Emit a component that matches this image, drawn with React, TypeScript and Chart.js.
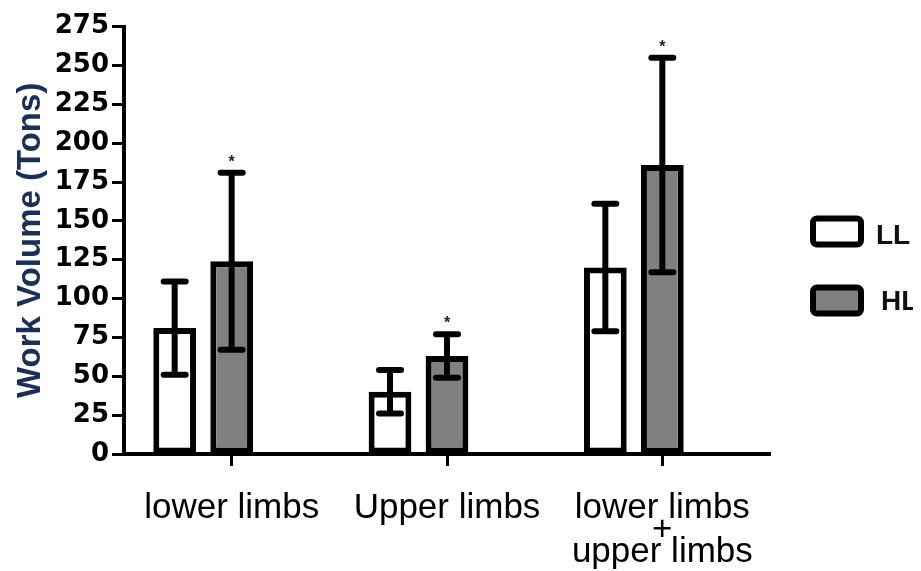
import React, { useEffect, useRef } from "react";
import { Chart, registerables } from "chart.js";

Chart.register(...registerables);

// ---- data ----
const categories: string[][] = [["lower limbs"], ["Upper limbs"], ["lower limbs", "+", "upper limbs"]];
const seriesNames = ["LL", "HL"];
const llMeans = [81, 40, 120];
const llErrors = [30, 14, 41];
const hlMeans = [124, 63, 186];
const hlErrors = [57, 14, 69];
const hlSignificant = [true, true, true];
const yMin = 0;
const yMax = 275;
const yStep = 25;
const yTitle = "Work Volume (Tons)";

const errorBarPlugin = {
  id: "errorBars",
  afterDatasetsDraw(chart: any) {
    const { ctx } = chart;
    const y = chart.scales.y;
    chart.data.datasets.forEach((ds: any, di: number) => {
      const errs = ds.errors;
      if (!errs) return;
      const meta = chart.getDatasetMeta(di);
      meta.data.forEach((bar: any, i: number) => {
        const v = ds.data[i];
        if (v == null) return;
        const x = bar.x;
        const yTop = y.getPixelForValue(v + errs[i]);
        const yBot = y.getPixelForValue(v - errs[i]);
        ctx.save();
        ctx.strokeStyle = "#000";
        ctx.lineWidth = 6;
        ctx.lineCap = "round";
        ctx.beginPath();
        ctx.moveTo(x, yTop);
        ctx.lineTo(x, yBot);
        ctx.moveTo(x - 11, yTop);
        ctx.lineTo(x + 11, yTop);
        ctx.moveTo(x - 11, yBot);
        ctx.lineTo(x + 11, yBot);
        ctx.stroke();
        if (ds.stars && ds.stars[i]) {
          ctx.fillStyle = "#222";
          ctx.font = "bold 16px 'Liberation Sans', Arial, sans-serif";
          ctx.textAlign = "center";
          ctx.textBaseline = "alphabetic";
          ctx.fillText("*", x, yTop - 6);
        }
        ctx.restore();
      });
    });
  },
};

const legendPlugin = {
  id: "customLegend",
  afterDraw(chart: any) {
    const { ctx, chartArea } = chart;
    const items = chart.data.datasets.filter((d: any) => d.label);
    const boxX = chartArea.right + 43;
    const tops = [210.5, 279.5];
    const textX = [boxX + 63, boxX + 68];
    const textDy = [18, 15];
    items.forEach((ds: any, i: number) => {
      const top = tops[i];
      ctx.save();
      ctx.lineWidth = 6;
      ctx.strokeStyle = "#000";
      ctx.fillStyle = ds.backgroundColor;
      ctx.beginPath();
      (ctx as any).roundRect(boxX, top, 48, 26, 4);
      ctx.fill();
      ctx.stroke();
      ctx.fillStyle = "#111";
      ctx.font = "bold 28px 'Liberation Sans', Arial, sans-serif";
      ctx.textAlign = "left";
      ctx.textBaseline = "middle";
      ctx.fillText(ds.label, textX[i], top + textDy[i]);
      ctx.restore();
    });
  },
};

export default function App() {
  const ref = useRef<HTMLCanvasElement | null>(null);
  useEffect(() => {
    if (!ref.current) return;
    const chart = new Chart(ref.current, {
      type: "bar",
      data: {
        labels: categories as any,
        datasets: [
          {
            label: seriesNames[0],
            data: llMeans,
            errors: llErrors,
            backgroundColor: "#ffffff",
            borderColor: "#000000",
            borderWidth: 6,
            borderSkipped: false,
          } as any,
          {
            label: seriesNames[1],
            data: hlMeans,
            errors: hlErrors,
            stars: hlSignificant,
            backgroundColor: "#808080",
            borderColor: "#000000",
            borderWidth: 6,
            borderSkipped: false,
          } as any,
          {
            label: "",
            data: categories.map(() => null),
            backgroundColor: "rgba(0,0,0,0)",
          } as any,
        ],
      },
      options: {
        animation: false,
        responsive: true,
        maintainAspectRatio: false,
        categoryPercentage: 0.794,
        barPercentage: 0.75,
        layout: { padding: { top: 14, right: 143, left: 0, bottom: 0 } },
        plugins: {
          legend: { display: false },
          tooltip: { enabled: false },
        },
        scales: {
          x: {
            type: "category",
            offset: true,
            grid: {
              display: true,
              drawOnChartArea: false,
              drawTicks: true,
              tickLength: 12,
              tickWidth: 3,
              tickColor: "#000",
              offset: false,
            },
            border: { display: true, color: "#000", width: 4 },
            ticks: {
              color: "#000",
              autoSkip: false,
              maxRotation: 0,
              padding: 31,
              font: { family: "'Liberation Sans', Arial, sans-serif", size: 35, lineHeight: 0.63 },
            },
            afterFit: (s: any) => {
              s.height = 117;
            },
          },
          y: {
            min: yMin,
            max: yMax,
            ticks: {
              stepSize: yStep,
              color: "#000",
              padding: 3,
              font: { family: "'DejaVu Sans', sans-serif", weight: "bold", size: 26 },
            },
            grid: {
              drawOnChartArea: false,
              tickLength: 12,
              tickWidth: 3,
              tickColor: "#000",
            },
            border: { display: true, color: "#000", width: 4 },
            title: {
              display: true,
              text: yTitle,
              color: "#1c2f55",
              font: { family: "'Liberation Sans', Arial, sans-serif", weight: "bold", size: 33 },
              padding: { top: 3, bottom: 0 },
            },
            afterFit: (s: any) => {
              s.width = 116;
            },
          },
        },
      } as any,
      plugins: [errorBarPlugin, legendPlugin],
    });
    return () => chart.destroy();
  }, []);
  return (
    <div style={{ position: "relative", width: "905px", height: "563px" }}>
      <canvas ref={ref} />
    </div>
  );
}
